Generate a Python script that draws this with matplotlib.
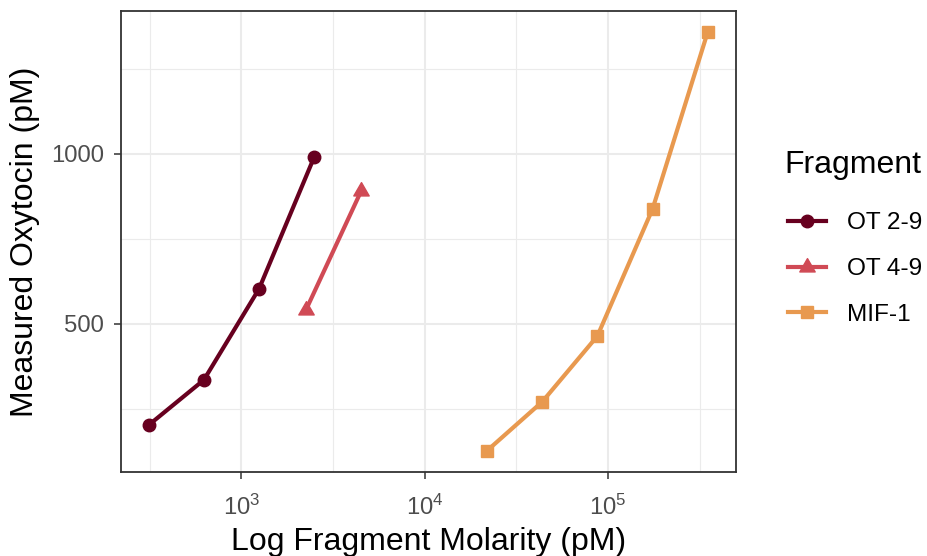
import matplotlib
matplotlib.use("Agg")
import matplotlib.pyplot as plt
import numpy as np
from matplotlib.path import Path
from matplotlib.ticker import FixedLocator, NullFormatter

plt.rcParams['font.family'] = ['Liberation Sans', 'DejaVu Sans']
plt.rcParams['mathtext.fontset'] = 'custom'
plt.rcParams['mathtext.rm'] = 'Liberation Sans'
plt.rcParams['mathtext.it'] = 'Liberation Sans:italic'

# ---- data ----
fragments = ["OT 2-9", "OT 4-9", "MIF-1"]
ot29_x = [312.5, 625, 1250, 2500]
ot29_y = [201.5, 334.5, 602.7, 991]
ot49_x = [2250, 4500]
ot49_y = [540, 890]
mif1_x = [21875, 43750, 87500, 175000, 350000]
mif1_y = [126, 270, 463.6, 837.7, 1359]

x_major = [1e3, 1e4, 1e5]
x_major_labels = [r'$10^{3}$', r'$10^{4}$', r'$10^{5}$']
x_minor = [10**2.5, 10**3.5, 10**4.5, 10**5.5]
y_major = [500, 1000]
y_major_labels = ["500", "1000"]
y_minor = [250, 750, 1250]

colors = ["#67001F", "#D04A55", "#E8994F"]

W, H = 927, 556
fig = plt.figure(figsize=(W / 100, H / 100), dpi=100)
ax = fig.add_axes([120.7 / W, 1 - 471.7 / H, (735.7 - 120.7) / W, (471.7 - 11) / H])

tri = Path([(0, 1), (-0.866, -0.5), (0.866, -0.5), (0, 1)], closed=True)

lw = 3.0
ax.plot(ot29_x, ot29_y, color=colors[0], lw=lw, marker='o', ms=9, label=fragments[0], zorder=3)
ax.plot(ot49_x, ot49_y, color=colors[1], lw=lw, marker=tri, ms=12.8, label=fragments[1], zorder=3)
ax.plot(mif1_x, mif1_y, color=colors[2], lw=lw, marker='s', ms=9.2, label=fragments[2], zorder=3)

ax.set_xscale('log')
# ggplot-style 5% expansion in log space / linear space
allx = np.log10(ot29_x + ot49_x + mif1_x)
ally = np.array(ot29_y + ot49_y + mif1_y)
dx = allx.max() - allx.min()
dy = ally.max() - ally.min()
ax.set_xlim(10 ** (allx.min() - 0.05 * dx), 10 ** (allx.max() + 0.05 * dx))
ax.set_ylim(ally.min() - 0.05 * dy, ally.max() + 0.05 * dy)

ax.xaxis.set_major_locator(FixedLocator(x_major))
ax.set_xticklabels(x_major_labels)
ax.xaxis.set_minor_locator(FixedLocator(x_minor))
ax.xaxis.set_minor_formatter(NullFormatter())
ax.yaxis.set_major_locator(FixedLocator(y_major))
ax.set_yticklabels(y_major_labels)
ax.yaxis.set_minor_locator(FixedLocator(y_minor))

ax.grid(True, which='major', color='#EBEBEB', lw=1.5, zorder=0)
ax.grid(True, which='minor', color='#EBEBEB', lw=0.8, zorder=0)
ax.set_axisbelow(True)

ax.tick_params(which='major', length=5.3, width=1.1, color='#333333', labelcolor='#4D4D4D',
               labelsize=17.2)
ax.tick_params(axis='y', which='major', pad=6.5)
ax.tick_params(axis='x', which='major', pad=11.5)
ax.tick_params(which='minor', length=0)
for s in ax.spines.values():
    s.set_color('#333333')
    s.set_linewidth(1.3)

ax.set_xlabel("Log Fragment Molarity (pM)", fontsize=23, color='black', labelpad=5)
ax.set_ylabel("Measured Oxytocin (pM)", fontsize=23, color='black', labelpad=8.5)

# legend title drawn as figure text, entries as a legend
fig.text(784 / W, 1 - 165 / H, "Fragment", fontsize=23, color='black', ha='left', va='center')
leg = ax.legend(loc='upper left', bbox_to_anchor=(776 / W, 1 - 200 / H), bbox_transform=fig.transFigure,
                frameon=False, fontsize=17.6,
                handlelength=1.53, handletextpad=0.89, labelspacing=0.97, borderpad=0)

fig.savefig("out.png", dpi=100)
